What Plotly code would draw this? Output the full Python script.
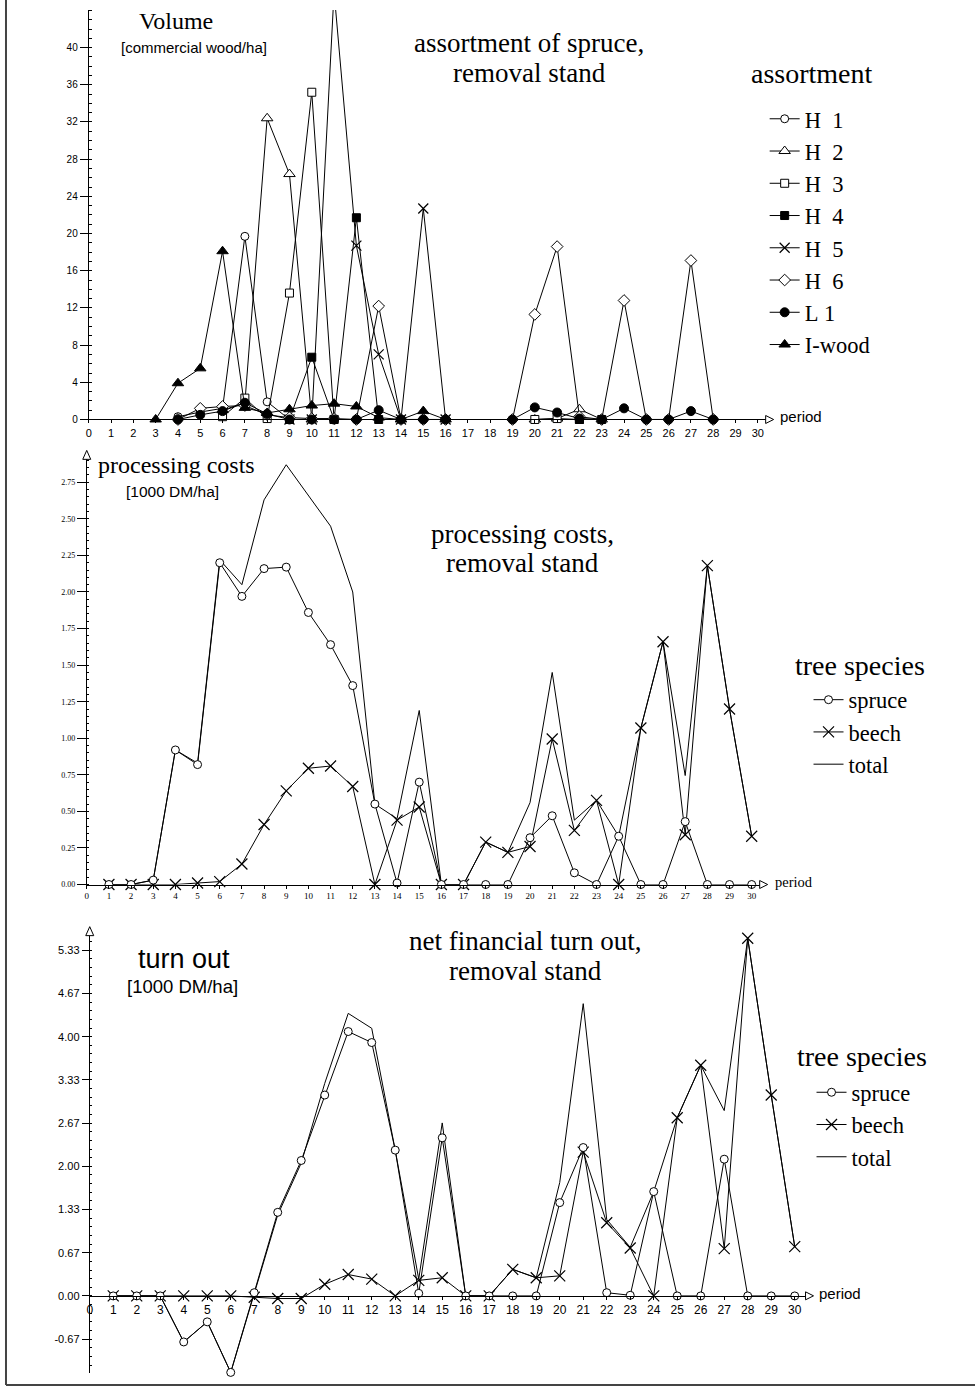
import plotly.graph_objects as go

N = None
W, H = 980, 1392

# ---------------- data ----------------
periods = list(range(31))  # 0..30 (top chart)

# assortment volumes of spruce [commercial wood/ha]
h1 = [N,N,N,N,0.3,0.8,1.2,19.7,1.9,0,N,N,N,N,N,N,N,N,N,N,N,N,N,N,N,N,N,N,N,N,N]
h2 = [N,N,N,N,N,N,1.0,1.8,32.4,26.4,0,N,N,N,N,N,N,N,N,N,0,0.1,1.1,0,N,N,N,N,N,N,N]
h3 = [N,N,N,N,N,N,0.3,2.3,0.1,13.6,35.2,0,N,N,N,N,N,N,N,N,0,0.1,0,N,N,N,N,N,N,N,N]
h4 = [N,N,N,N,N,N,N,N,N,0,6.7,0,21.7,0,N,N,N,N,N,N,N,N,0,0,N,N,N,N,N,N,N]
h5 = [N,N,N,N,N,N,N,N,N,0,0,46,18.7,7.0,0,22.7,0,N,N,N,N,N,N,N,N,N,N,N,N,N,N]
h6 = [N,N,N,N,0,1.2,1.4,1.5,0.5,0.2,0.1,0.1,0,12.2,0,0,0,N,N,0,11.3,18.6,0.3,0,12.8,0,0,17.1,0,N,N]
l1 = [N,N,N,N,0,0.5,0.9,1.8,0.6,0,0,0,0,1.0,0,0,0,N,N,0,1.3,0.75,0.1,0,1.2,0,0,0.9,0,N,N]
iwood = [N,N,N,0,3.9,5.5,18.1,1.25,0.7,1.1,1.5,1.7,1.4,0.2,0,0.9,0,N,N,N,N,N,N,N,N,N,N,N,N,N,N]

periods2 = list(range(1, 31))  # 1..30
# processing costs [1000 DM/ha]
spruce_cost = [0,0,0.03,0.92,0.82,2.20,1.97,2.16,2.17,1.86,
               1.64,1.36,0.55,0.01,0.70,0,0,0,0,0.32,
               0.47,0.08,0,0.33,0,0,0.43,0,0,0]
beech_cost = [0,0,0,0,0.01,0.02,0.14,0.41,0.64,0.795,
              0.81,0.67,0,0.44,0.53,0,0,0.29,0.22,0.26,
              0.995,0.37,0.575,0,1.07,1.66,0.34,2.18,1.20,0.33]
total_cost = [0,0,0.03,0.92,0.83,2.22,2.05,2.63,2.87,2.66,
              2.45,2.00,0.55,0.45,1.19,0,0,0.29,0.22,0.56,
              1.45,0.44,0.575,0.33,1.07,1.66,0.745,2.18,1.20,0.33]

# net financial turn out [1000 DM/ha]
spruce_net = [0,0,0,-0.71,-0.40,-1.18,0.05,1.29,2.09,3.10,
              4.08,3.91,2.25,0.04,2.44,0,0,0,0,1.44,
              2.29,0.05,0.01,1.61,0,0,2.11,0,0,0]
beech_net = [0,0,0,0,0,0,-0.02,-0.04,-0.04,0.18,
             0.33,0.26,0,0.24,0.28,0,0,0.41,0.28,0.31,
             2.22,1.13,0.74,0,2.75,3.56,0.73,5.52,3.10,0.76]
total_net = [0,0,0,-0.71,-0.40,-1.18,0.03,1.25,2.05,3.28,
             4.36,4.13,2.25,0.26,2.67,0,0,0.41,0.28,1.75,
             4.51,1.18,0.75,1.61,2.75,3.56,2.86,5.52,3.10,0.76]

x_ticks = list(range(31))
vol_ticks = [0, 4, 8, 12, 16, 20, 24, 28, 32, 36, 40]
cost_ticks = [0, 0.25, 0.5, 0.75, 1.0, 1.25, 1.5, 1.75, 2.0, 2.25, 2.5, 2.75]
cost_ticktext = ["0.00","0.25","0.50","0.75","1.00","1.25","1.50","1.75","2.00","2.25","2.50","2.75"]
net_ticks = [-2/3, 0, 2/3, 4/3, 2, 8/3, 10/3, 4, 14/3, 16/3]
net_ticktext = ["-0.67","0.00","0.67","1.33","2.00","2.67","3.33","4.00","4.67","5.33"]

# ---------------- helpers ----------------
def px(x):
    return x / W

def py(y):
    return 1 - y / H

SERIF = "Liberation Serif"
SANS = "Liberation Sans"
BLK = "black"

def mk(symbol, size, filled):
    if symbol == "x-thin":
        return dict(symbol=symbol, size=size, color=BLK, line=dict(color=BLK, width=1.2))
    return dict(symbol=symbol, size=size, color=BLK if filled else "white",
                line=dict(color=BLK, width=1))

fig = go.Figure()

top_series = [
    ("H\u00a0\u00a01", h1, mk("circle", 8, False)),
    ("H\u00a0\u00a02", h2, mk("triangle-up", 10, False)),
    ("H\u00a0\u00a03", h3, mk("square", 8, False)),
    ("H\u00a0\u00a04", h4, mk("square", 8, True)),
    ("H\u00a0\u00a05", h5, mk("x-thin", 10, True)),
    ("H\u00a0\u00a06", h6, mk("diamond", 9, False)),
    ("L\u00a01", l1, mk("circle", 9, True)),
    ("I-wood", iwood, mk("triangle-up", 10, True)),
]
for i, (name, vals, marker) in enumerate(top_series):
    fig.add_trace(go.Scatter(
        x=periods, y=vals, name=name, mode="lines+markers",
        line=dict(color=BLK, width=1), marker=marker, cliponaxis=False,
        xaxis="x", yaxis="y", legend="legend", legendgroup="t%d" % i))

def species_traces(xs, spruce, beech, total, ax, ay, leg, tag):
    fig.add_trace(go.Scatter(
        x=xs, y=total, name="total", mode="lines", line=dict(color=BLK, width=1),
        xaxis=ax, yaxis=ay, legend=leg, legendgroup=tag + "c", legendrank=3))
    fig.add_trace(go.Scatter(
        x=xs, y=beech, name="beech", mode="lines+markers", line=dict(color=BLK, width=1),
        marker=mk("x-thin", 11, True), cliponaxis=False,
        xaxis=ax, yaxis=ay, legend=leg, legendgroup=tag + "b", legendrank=2))
    fig.add_trace(go.Scatter(
        x=xs, y=spruce, name="spruce", mode="lines+markers", line=dict(color=BLK, width=1),
        marker=mk("circle", 8, False), cliponaxis=False,
        xaxis=ax, yaxis=ay, legend=leg, legendgroup=tag + "a", legendrank=1))

species_traces(periods2, spruce_cost, beech_cost, total_cost, "x2", "y2", "legend2", "m")
species_traces(periods2, spruce_net, beech_net, total_net, "x3", "y3", "legend3", "b")

axis_common = dict(showline=True, linecolor=BLK, linewidth=1, showgrid=False,
                   zeroline=False, ticks="outside", tickcolor=BLK, tickwidth=1)

LEGFONT = dict(family=SERIF, size=22.5, color=BLK)

fig.update_layout(
    width=W, height=H, autosize=False,
    margin=dict(l=0, r=0, t=0, b=0),
    paper_bgcolor="white", plot_bgcolor="white",
    showlegend=True,
    xaxis=dict(axis_common, domain=[px(86), px(765)], range=[0, 30.35], anchor="y",
               tickvals=x_ticks, ticklen=3, tickfont=dict(family=SANS, size=11, color=BLK)),
    yaxis=dict(axis_common, domain=[py(421), py(10)], range=[0, 44.05], anchor="x",
               tickvals=vol_ticks, ticklen=8, tickfont=dict(family=SANS, size=10, color=BLK),
               minor=dict(ticks="inside", ticklen=3, dtick=1, tickcolor=BLK)),
    xaxis2=dict(axis_common, domain=[px(84), px(759)], range=[0, 30.36], anchor="y2",
                tickvals=x_ticks, ticklen=3, tickfont=dict(family=SERIF, size=9, color=BLK)),
    yaxis2=dict(axis_common, domain=[py(887.7), py(461)], range=[0, 2.907], anchor="x2",
                tickvals=cost_ticks, ticktext=cost_ticktext, ticklen=9,
                tickfont=dict(family=SERIF, size=8, color=BLK),
                minor=dict(ticks="inside", ticklen=2, dtick=0.05, tickcolor=BLK)),
    xaxis3=dict(axis_common, domain=[px(87), px(805)], range=[0, 30.46], anchor="free",
                position=py(1300.5), tickvals=x_ticks, ticklen=3,
                tickfont=dict(family=SANS, size=12, color=BLK)),
    yaxis3=dict(axis_common, domain=[py(1378), py(939)], range=[-1.19, 5.56], anchor="x3",
                tickvals=net_ticks, ticktext=net_ticktext, ticklen=7,
                tickfont=dict(family=SANS, size=11, color=BLK),
                minor=dict(ticks="inside", ticklen=2, dtick=2/15, tickcolor=BLK)),
    legend=dict(x=px(764), y=py(98), xanchor="left", yanchor="top", font=LEGFONT,
                bgcolor="rgba(0,0,0,0)", tracegroupgap=0, itemclick=False),
    legend2=dict(x=px(808), y=py(681), xanchor="left", yanchor="top", font=LEGFONT,
                 bgcolor="rgba(0,0,0,0)", tracegroupgap=0, itemclick=False),
    legend3=dict(x=px(811), y=py(1075), xanchor="left", yanchor="top", font=LEGFONT,
                 bgcolor="rgba(0,0,0,0)", tracegroupgap=0, itemclick=False),
)

def ann(text, x, y, size, family, xanchor="center"):
    fig.add_annotation(text=text, x=px(x), y=py(y), xref="paper", yref="paper",
                       xanchor=xanchor, yanchor="middle", showarrow=False,
                       font=dict(family=family, size=size, color=BLK))

# top chart texts
ann("Volume", 174, 21, 24, SERIF)
ann("[commercial wood/ha]", 192, 48, 15, SANS)
ann("assortment of spruce,", 528, 43.5, 27, SERIF)
ann("removal stand", 528, 73.5, 27, SERIF)
ann("assortment", 748, 74, 28, SERIF, "left")
ann("period", 777, 418, 15, SANS, "left")
# middle chart texts
ann("processing costs", 93, 467, 24, SERIF, "left")
ann("[1000 DM/ha]", 170, 493, 15.5, SANS)
ann("processing costs,", 521, 535.5, 27, SERIF)
ann("removal stand", 521, 565.5, 27, SERIF)
ann("tree species", 792, 668, 28, SERIF, "left")
ann("period", 772, 885, 14.5, SERIF, "left")
# bottom chart texts
ann("turn out", 182, 962, 27, SANS)
ann("[1000 DM/ha]", 180, 990, 18.5, SANS)
ann("net financial turn out,", 524, 944, 27, SERIF)
ann("removal stand", 524, 974, 27, SERIF)
ann("tree species", 794, 1060, 28, SERIF, "left")
ann("period", 816, 1298, 15, SANS, "left")

def tri(points):
    d = "M " + " L ".join("%f %f" % (px(a), py(b)) for a, b in points) + " Z"
    fig.add_shape(type="path", path=d, xref="paper", yref="paper",
                  line=dict(color=BLK, width=1), fillcolor="white")

# axis arrow heads (open triangles)
tri([(765, 417), (773, 421), (765, 425)])
tri([(759, 883.7), (767, 887.7), (759, 891.7)])
tri([(805, 1296.5), (813, 1300.5), (805, 1304.5)])
tri([(80, 461), (84, 452), (88, 461)])
tri([(83, 939), (87, 930), (91, 939)])

# scan frame lines
fig.add_shape(type="line", xref="paper", yref="paper", x0=px(3), y0=py(0), x1=px(3), y1=py(1390),
              line=dict(color="#444", width=2))
fig.add_shape(type="line", xref="paper", yref="paper", x0=px(3), y0=py(1390), x1=px(975), y1=py(1390),
              line=dict(color="#444", width=2))

fig.write_html("out.html",
               config={"displayModeBar": False},
               post_script="document.body.style.margin='0';"
                           "document.documentElement.style.overflow='hidden';")
